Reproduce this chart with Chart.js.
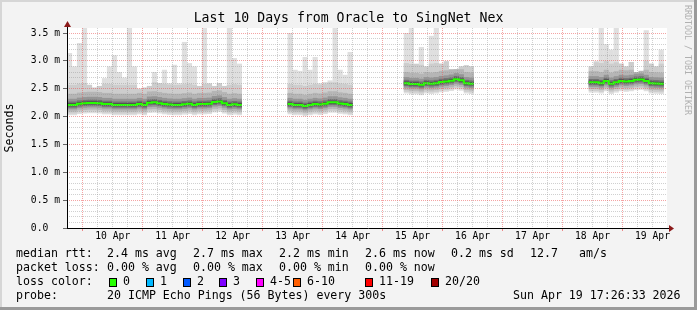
<!DOCTYPE html>
<html>
<head>
<meta charset="utf-8">
<script src="https://cdn.jsdelivr.net/npm/chart.js@4.4.1/dist/chart.umd.min.js"></script>
<style>
html, body { margin: 0; padding: 0; background: #f3f3f3; }
</style>
</head>
<body>
<canvas id="smoke" width="697" height="310"></canvas>
<script>
// time axis in hours since 10 Apr 00:00, one consolidated sample every 2 h
const segStarts = [-6.3, 82, 128.5, 202.5];
const stepHours = 2;
const dayLabels = ["10 Apr", "11 Apr", "12 Apr", "13 Apr", "14 Apr", "15 Apr", "16 Apr", "17 Apr", "18 Apr", "19 Apr"];

// median rtt (ms) per sample, one array per block of data
const medianSeg1 = [2.21, 2.21, 2.23, 2.24, 2.245, 2.245, 2.24, 2.225, 2.225, 2.21, 2.21, 2.21, 2.21, 2.21, 2.225, 2.21, 2.25, 2.255, 2.24, 2.225, 2.215, 2.21, 2.21, 2.22, 2.23, 2.21, 2.225, 2.225, 2.23, 2.26, 2.27, 2.24, 2.21, 2.22, 2.21];
const medianSeg2 = [2.225, 2.21, 2.21, 2.19, 2.21, 2.225, 2.215, 2.23, 2.255, 2.255, 2.235, 2.225, 2.21];
const medianSeg3 = [2.6, 2.585, 2.585, 2.57, 2.6, 2.59, 2.6, 2.62, 2.63, 2.645, 2.67, 2.65, 2.6, 2.59];
const medianSeg4 = [2.615, 2.615, 2.6, 2.64, 2.59, 2.615, 2.64, 2.63, 2.64, 2.66, 2.665, 2.64, 2.6, 2.595, 2.59];

// slowest ping (ms) per sample = top of the smoke
const maxSeg1 = [3.14, 2.9, 3.32, 3.6, 2.57, 2.52, 2.55, 2.69, 2.9, 3.1, 2.8, 2.7, 3.6, 2.9, 2.5, 2.52, 2.55, 2.8, 2.6, 2.84, 2.6, 2.93, 2.6, 3.34, 2.96, 2.9, 2.55, 3.62, 2.6, 2.55, 2.6, 2.55, 3.6, 3.05, 2.95];
const maxSeg2 = [3.5, 2.84, 2.82, 3.07, 2.84, 3.07, 2.6, 2.62, 2.65, 3.62, 2.84, 2.75, 3.16];
const maxSeg3 = [3.5, 3.6, 2.95, 3.25, 2.9, 3.45, 3.6, 2.95, 3.0, 2.85, 2.85, 2.9, 2.92, 2.9];
const maxSeg4 = [2.9, 3.0, 3.6, 3.3, 3.2, 3.62, 2.95, 2.9, 2.98, 2.8, 2.82, 3.55, 2.95, 2.9, 3.2];

const rttStats = ["2.4 ms avg", "2.7 ms max", "2.2 ms min", "2.6 ms now", "0.2 ms sd", "12.7", "am/s"];
const lossStats = ["0.00 % avg", "0.00 % max", "0.00 % min", "0.00 % now"];
const lossLabels = ["0", "1", "2", "3", "4-5", "6-10", "11-19", "20/20"];
const lossColors = ["#26ff00", "#00b8ff", "#0059ff", "#7e00ff", "#ff00ff", "#ff5e00", "#ff0000", "#a10000"];
const probeText = "20 ICMP Echo Pings (56 Bytes) every 300s";
const stampText = "Sun Apr 19 17:26:33 2026";

const segMedians = [medianSeg1, medianSeg2, medianSeg3, medianSeg4];
const segMax = [maxSeg1, maxSeg2, maxSeg3, maxSeg4];

const samples = [];
segMedians.forEach((meds, s) => {
    meds.forEach((m, i) => {
        samples.push({ t: segStarts[s] + stepHours * (i + 0.5), med: m, max: segMax[s][i] });
    });
});

// smoke shading, darkest first (drawn on top)
const shades = [
    { color: "#4c4c4c", below: 0.025, above: 0.03 },
    { color: "#727272", below: 0.05, above: 0.06 },
    { color: "#959595", below: 0.08, above: 0.11 },
    { color: "#b5b5b5", below: 0.12, above: 0.2 },
    { color: "#cdcdcd", below: 0.155, above: 0.36 },
    { color: "#dfdfdf", below: 0.185, above: 99 },
];

const smokeSets = shades.map((sh) => ({
    type: "bar",
    data: samples.map((p) => ({ x: p.t, y: [p.med - sh.below, Math.min(p.max, p.med + sh.above)] })),
    backgroundColor: sh.color,
    borderWidth: 0,
    grouped: false,
    barPercentage: 1.04,
    categoryPercentage: 1,
}));

const medianPoints = [];
segMedians.forEach((meds, s) => {
    const t0 = segStarts[s];
    const t1 = t0 + stepHours * meds.length;
    medianPoints.push({ x: t0, y: meds[0] });
    meds.forEach((m, i) => medianPoints.push({ x: t0 + stepHours * (i + 0.5), y: m }));
    medianPoints.push({ x: t1, y: meds[meds.length - 1] });
    medianPoints.push({ x: t1 + 1, y: null });
});

const mono = '"DejaVu Sans Mono", monospace';

const frame = {
    id: "frame",
    beforeDraw(chart) {
        const { ctx, chartArea: a, width, height } = chart;
        ctx.save();
        ctx.fillStyle = "#f3f3f3";
        ctx.fillRect(0, 0, width, height);
        ctx.fillStyle = "#ffffff";
        ctx.fillRect(a.left, a.top, a.right - a.left, a.bottom - a.top);
        ctx.restore();
    },
    afterDraw(chart) {
        const { ctx, chartArea: a, width, height } = chart;
        ctx.save();

        // 3d frame
        ctx.fillStyle = "#d6d6d6";
        ctx.fillRect(0, 0, width, 2);
        ctx.fillRect(0, 0, 2, height);
        ctx.fillStyle = "#9a9a9a";
        ctx.fillRect(0, height - 3, width, 3);
        ctx.fillRect(width - 3, 0, 3, height);

        // axes + arrows
        ctx.strokeStyle = "#000";
        ctx.lineWidth = 1;
        ctx.beginPath();
        ctx.moveTo(a.left + 0.5, a.bottom + 0.5);
        ctx.lineTo(a.left + 0.5, a.top - 2);
        ctx.moveTo(a.left, a.bottom + 0.5);
        ctx.lineTo(a.right + 3, a.bottom + 0.5);
        ctx.stroke();
        ctx.fillStyle = "#8b1a1a";
        ctx.beginPath();
        ctx.moveTo(a.right + 2, a.bottom - 3);
        ctx.lineTo(a.right + 7, a.bottom + 0.5);
        ctx.lineTo(a.right + 2, a.bottom + 4);
        ctx.fill();
        ctx.beginPath();
        ctx.moveTo(a.left - 3, a.top - 1);
        ctx.lineTo(a.left + 0.5, a.top - 7);
        ctx.lineTo(a.left + 4, a.top - 1);
        ctx.fill();

        // title and axis label
        ctx.fillStyle = "#000";
        ctx.textBaseline = "middle";
        ctx.textAlign = "center";
        ctx.font = "13.2px " + mono;
        ctx.fillText("Last 10 Days from Oracle to SingNet Nex", 348.5, 19);
        ctx.font = "11.6px " + mono;
        ctx.save();
        ctx.translate(10, 128);
        ctx.rotate(-Math.PI / 2);
        ctx.fillText("Seconds", 0, 0);
        ctx.restore();

        ctx.save();
        ctx.fillStyle = "#b0b0b0";
        ctx.font = "8.3px " + mono;
        ctx.textAlign = "left";
        ctx.translate(687, 5);
        ctx.rotate(Math.PI / 2);
        ctx.fillText("RRDTOOL / TOBI OETIKER", 0, 0);
        ctx.restore();

        // legend
        ctx.textAlign = "left";
        ctx.font = "11.6px " + mono;
        const cols = [107, 193, 279, 365, 451, 530, 579];
        ctx.fillText("median rtt:", 16, 254);
        rttStats.forEach((txt, i) => ctx.fillText(txt, cols[i], 254));
        ctx.fillText("packet loss:", 16, 268);
        lossStats.forEach((txt, i) => ctx.fillText(txt, cols[i], 268));
        ctx.fillText("loss color:", 16, 282);
        const boxX = [109, 146, 183, 219, 256, 293, 365, 431];
        lossLabels.forEach((lbl, i) => {
            ctx.fillStyle = lossColors[i];
            ctx.fillRect(boxX[i], 278, 7, 8);
            ctx.strokeStyle = "#000";
            ctx.strokeRect(boxX[i] + 0.5, 278.5, 7, 8);
            ctx.fillStyle = "#000";
            ctx.fillText(lbl, boxX[i] + 14, 282);
        });
        ctx.fillText("probe:", 16, 296);
        ctx.fillText(probeText, 107, 296);
        ctx.fillText(stampText, 513, 296);

        ctx.restore();
    },
};

const isMajorY = (v) => Math.abs(v * 2 - Math.round(v * 2)) < 1e-6;

new Chart(document.getElementById("smoke"), {
    type: "bar",
    data: {
        datasets: [
            {
                type: "line",
                data: medianPoints,
                borderColor: lossColors[0],
                borderWidth: 2,
                pointRadius: 0,
                stepped: "middle",
                spanGaps: false,
            },
            ...smokeSets,
        ],
    },
    options: {
        responsive: false,
        animation: false,
        layout: { padding: { top: 28, right: 30, left: 0, bottom: 0 } },
        plugins: {
            legend: { display: false },
            tooltip: { enabled: false },
        },
        scales: {
            x: {
                type: "linear",
                min: -6.3,
                max: 233.8,
                offset: false,
                grid: {
                    z: 1,
                    offset: false,
                    tickLength: 3,
                    color: (c) => (c.tick && c.tick.value % 24 === 0 ? "rgba(235, 90, 90, 0.55)" : "rgba(150, 150, 150, 0.45)"),
                    tickColor: (c) => (c.tick && c.tick.value % 24 === 0 ? "rgba(235, 90, 90, 0.7)" : "rgba(0,0,0,0)"),
                },
                border: { display: false, dash: [1, 1] },
                ticks: {
                    stepSize: 6,
                    autoSkip: false,
                    maxRotation: 0,
                    minRotation: 0,
                    includeBounds: false,
                    padding: 0,
                    color: "#000",
                    font: { family: mono, size: 9.7 },
                    callback: (v) => {
                        const d = (v - 12) / 24;
                        return Number.isInteger(d) && dayLabels[d] ? dayLabels[d] : "";
                    },
                },
                afterFit: (s) => { s.height = 82; },
            },
            y: {
                min: 0,
                max: 3.59,
                grid: {
                    z: 1,
                    tickLength: 4,
                    color: (c) => (c.tick && isMajorY(c.tick.value) ? "rgba(235, 90, 90, 0.55)" : "rgba(150, 150, 150, 0.45)"),
                    tickColor: (c) => (c.tick && isMajorY(c.tick.value) ? "#666" : "rgba(0,0,0,0)"),
                },
                border: { display: false, dash: [1, 1] },
                ticks: {
                    stepSize: 0.1,
                    autoSkip: false,
                    includeBounds: false,
                    padding: 3,
                    color: "#000",
                    font: { family: mono, size: 9.7 },
                    callback: (v) => {
                        if (!isMajorY(v)) return "";
                        return v === 0 ? "0.0  " : v.toFixed(1) + " m";
                    },
                },
                afterFit: (s) => { s.width = 67; },
            },
        },
    },
    plugins: [frame],
});
</script>
</body>
</html>
